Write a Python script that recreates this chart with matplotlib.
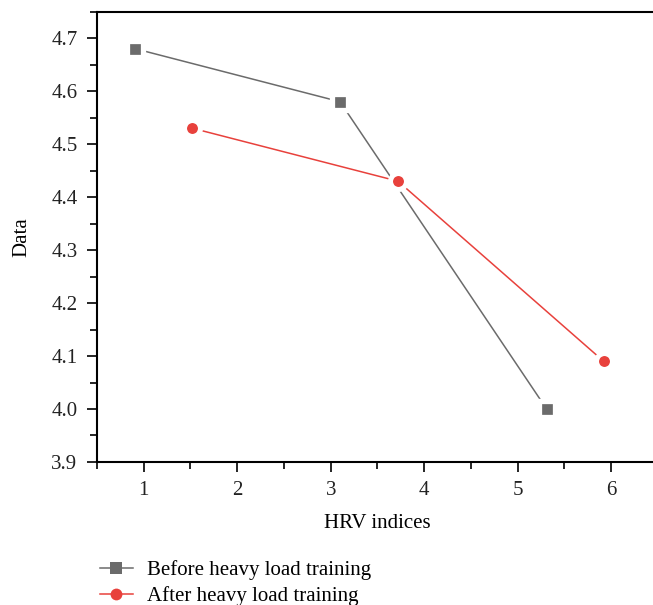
import matplotlib.pyplot as plt
from matplotlib.ticker import MultipleLocator

plt.rcParams['font.family'] = ['Liberation Serif', 'DejaVu Serif']

# data
x_before = [0.91, 3.10, 5.31]
y_before = [4.68, 4.58, 4.00]
x_after = [1.52, 3.72, 5.92]
y_after = [4.53, 4.43, 4.09]
x_ticks = [1, 2, 3, 4, 5, 6]
y_ticks = [3.9, 4.0, 4.1, 4.2, 4.3, 4.4, 4.5, 4.6, 4.7]

fig = plt.figure(figsize=(6.53, 6.05), dpi=100)
ax = fig.add_axes([0.1485, 0.2364, 0.859, 0.7443])

# white marker edge gives the gap between line and symbol
ax.plot(x_before, y_before, color='#6b6b6b', lw=1.1, marker='s', ms=11.5,
        mfc='#6b6b6b', mec='white', mew=3.8, label='Before heavy load training', zorder=3)
ax.plot(x_after, y_after, color='#e8413c', lw=1.1, marker='o', ms=11.5,
        mfc='#e8413c', mec='white', mew=3.6, label='After heavy load training', zorder=3)

ax.set_xlim(0.5, 6.5)
ax.set_ylim(3.9, 4.75)
ax.set_xticks(x_ticks)
ax.set_yticks(y_ticks)
ax.set_yticklabels(['%.1f' % v for v in y_ticks])
ax.xaxis.set_minor_locator(MultipleLocator(0.5))
ax.yaxis.set_minor_locator(MultipleLocator(0.05))
ax.tick_params(which='major', direction='out', length=7, width=1.2, labelsize=15, pad=7,
               labelcolor='#222222')
ax.tick_params(which='minor', direction='out', length=5, width=1.2)
for s in ax.spines.values():
    s.set_linewidth(1.5)

ax.set_xlabel('HRV indices', fontsize=15, labelpad=10)
ax.set_ylabel('Data', fontsize=15, labelpad=14)

leg = fig.legend(loc='upper left', bbox_to_anchor=(0.14, 0.088), frameon=False,
                 fontsize=15, handlelength=1.6, handletextpad=0.65, labelspacing=0.3,
                 borderaxespad=0)
# legend symbols touch the line
for ln in leg.get_lines():
    ln.set_markeredgewidth(0)
    ln.set_markersize(8.5)

fig.savefig('out.png', dpi=100)
